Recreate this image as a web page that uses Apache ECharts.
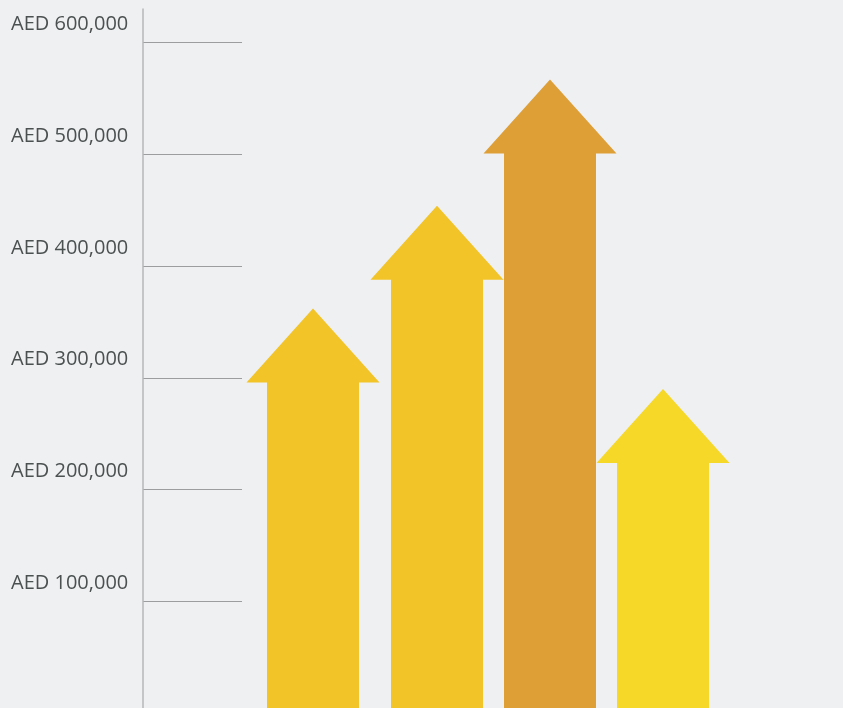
<!DOCTYPE html>
<html>
<head>
<meta charset="utf-8">
<script src="https://cdn.jsdelivr.net/npm/echarts@6/dist/echarts.min.js"></script>
<style>
html,body{margin:0;padding:0;background:#EFF0F2;}
#chart{width:843px;height:708px;}
</style>
</head>
<body>
<div id="chart"></div>
<script>
// Data
const categories = ['Stage 1', 'Stage 2', 'Stage 3', 'Stage 4'];
const values = [362000, 454000, 567000, 290000];
const yTicks = [100000, 200000, 300000, 400000, 500000, 600000];

// Styles
const arrowColors = ['#F2C428', '#F2C428', '#DF9F37', '#F6D829'];
const arrowShift = [-11, 0, 0, 0];
const headH = 74, headHalf = 66.5, shaftHalf = 46;

function fmt(v) {
  return 'AED ' + String(v).replace(/\B(?=(\d{3})+(?!\d))/g, ',');
}

const chart = echarts.init(document.getElementById('chart'), null, {renderer: 'canvas'});
chart.setOption({
  backgroundColor: '#EFF0F2',
  animation: false,
  grid: [
    {left: 143, width: 99, top: 9, height: 704, outerBoundsMode: 'none', containLabel: false},
    {left: 267.5, width: 452, top: 9, height: 704, outerBoundsMode: 'none', containLabel: false}
  ],
  xAxis: [
    {gridIndex: 0, type: 'value', show: false},
    {gridIndex: 1, type: 'category', data: categories, show: false, boundaryGap: true}
  ],
  yAxis: [
    {
      gridIndex: 0, type: 'value', min: 0, max: 630000, interval: 100000,
      axisLine: {show: true, lineStyle: {color: '#B6B7B9', width: 1.5}},
      axisTick: {show: false},
      splitLine: {show: true, lineStyle: {width: 1, color: ['#9C9D9F','#9C9D9F','#9C9D9F','#9C9D9F','#9C9D9F','#9C9D9F','#9C9D9F','rgba(0,0,0,0)']}},
      axisLabel: {
        show: true, align: 'left', margin: 132, verticalAlign: 'bottom',
        padding: [0, 0, 8, 0],
        fontFamily: 'Open Sans', fontSize: 20, color: '#4B5051',
        formatter: function (v) { return yTicks.indexOf(v) >= 0 ? fmt(v) : ''; }
      }
    },
    {gridIndex: 1, type: 'value', min: 0, max: 630000, show: false, splitLine: {show: false}}
  ],
  series: [{
    type: 'custom',
    xAxisIndex: 1, yAxisIndex: 1,
    clip: false,
    data: values.map(function (v, i) { return [i, v]; }),
    encode: {x: 0, y: 1},
    renderItem: function (params, api) {
      const i = params.dataIndex;
      const tip = api.coord([api.value(0), api.value(1)]);
      const base = api.coord([api.value(0), 0]);
      const cx = tip[0] + arrowShift[i];
      const ty = tip[1];
      const hb = ty + headH;
      return {
        type: 'polygon',
        shape: {points: [
          [cx - shaftHalf, base[1]], [cx - shaftHalf, hb], [cx - headHalf, hb],
          [cx, ty], [cx + headHalf, hb], [cx + shaftHalf, hb], [cx + shaftHalf, base[1]]
        ]},
        style: {fill: arrowColors[i]}
      };
    }
  }]
});
</script>
</body>
</html>
